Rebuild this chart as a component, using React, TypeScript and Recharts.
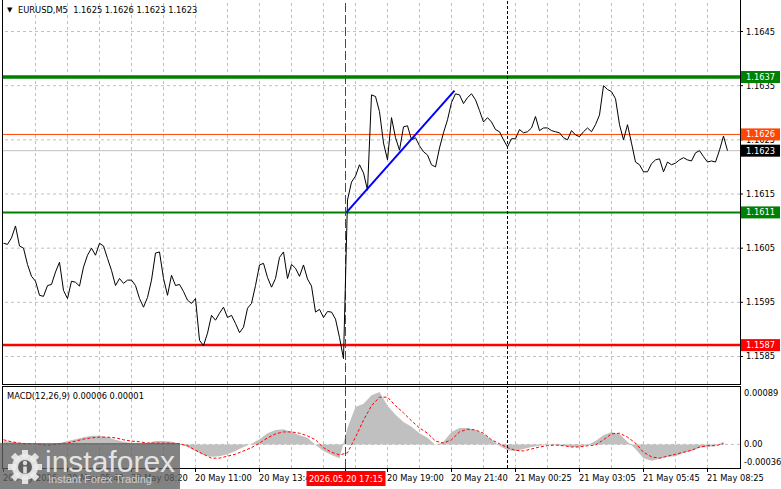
import { ComposedChart, Line, Area, XAxis, YAxis, ReferenceLine } from "recharts";

const FONT = "'DejaVu Sans', Verdana, sans-serif";
const FS = 8.3;

// EURUSD M5 close, one value every 2 bars (first bar 20 May 03:00)
const CLOSE = [
  1.16059, 1.16057, 1.16069, 1.16091, 1.16054, 1.16050, 1.16020, 1.15998, 1.15989, 1.15963,
  1.15961, 1.15981, 1.15983, 1.16006, 1.16024, 1.15972, 1.15957, 1.15989, 1.15987, 1.15980,
  1.16015, 1.16037, 1.16050, 1.16037, 1.16059, 1.16054, 1.16031, 1.16009, 1.15981, 1.15994,
  1.15985, 1.15991, 1.15991, 1.15981, 1.15957, 1.15941, 1.15959, 1.15991, 1.16041, 1.16043,
  1.15994, 1.15963, 1.16000, 1.15981, 1.15983, 1.15970, 1.15954, 1.15948, 1.15957, 1.15880,
  1.15870, 1.15893, 1.15926, 1.15917, 1.15930, 1.15941, 1.15922, 1.15926, 1.15911, 1.15894,
  1.15904, 1.15939, 1.15948, 1.15981, 1.16019, 1.16022, 1.15996, 1.15978, 1.15994, 1.16033,
  1.16043, 1.15994, 1.16020, 1.16013, 1.15998, 1.16019, 1.15993, 1.15980, 1.15932, 1.15937,
  1.15922, 1.15933, 1.15932, 1.15919, 1.15885, 1.15846, 1.16139, 1.16172, 1.16183, 1.16204,
  1.16189, 1.16157, 1.16333, 1.16330, 1.16302, 1.16244, 1.16213, 1.16291, 1.16254, 1.16231,
  1.16274, 1.16276, 1.16250, 1.16254, 1.16239, 1.16228, 1.16222, 1.16204, 1.16200, 1.16235,
  1.16263, 1.16287, 1.16319, 1.16335, 1.16333, 1.16317, 1.16328, 1.16335, 1.16324, 1.16304,
  1.16283, 1.16291, 1.16283, 1.16269, 1.16265, 1.16250, 1.16237, 1.16252, 1.16252, 1.16269,
  1.16263, 1.16265, 1.16272, 1.16293, 1.16267, 1.16272, 1.16272, 1.16267, 1.16265, 1.16263,
  1.16254, 1.16250, 1.16267, 1.16259, 1.16256, 1.16265, 1.16272, 1.16265, 1.16278, 1.16296,
  1.16350, 1.16343, 1.16339, 1.16326, 1.16278, 1.16250, 1.16278, 1.16244, 1.16209, 1.16204,
  1.16191, 1.16191, 1.16206, 1.16213, 1.16215, 1.16191, 1.16209, 1.16204, 1.16207, 1.16213,
  1.16217, 1.16213, 1.16211, 1.16226, 1.16230, 1.16219, 1.16209, 1.16211, 1.16209, 1.16231,
  1.16257, 1.16230,
];

// MACD(12,26,9), one value every 4 bars
const MACD_HIST = [
  0.00005, 0.00004, 0.00002, 0.00001, -0.00001, -0.00001, 0.00001, 0.00002, 0.00005, 0.00008,
  0.00011, 0.00013, 0.00013, 0.00011, 0.00007, 0.00004, 0.00002, 0.00001, 0.00002, 0.00005,
  0.00005, 0.00004, 0.00001, -0.00004, -0.00010, -0.00016, -0.00019, -0.00018, -0.00015, -0.00010,
  -0.00004, 0.00001, 0.00008, 0.00017, 0.00022, 0.00023, 0.00019, 0.00014, 0.00010, -0.00001,
  -0.00010, -0.00016, -0.00021, 0.00025, 0.00057, 0.00062, 0.00075, 0.00080, 0.00059, 0.00045,
  0.00034, 0.00027, 0.00017, 0.00010, -0.00001, 0.00004, 0.00019, 0.00025, 0.00025, 0.00022,
  0.00016, 0.00007, -0.00002, -0.00009, -0.00010, -0.00007, -0.00004, -0.00002, -0.00001, -0.00001,
  -0.00002, -0.00004, -0.00004, -0.00001, 0.00005, 0.00014, 0.00019, 0.00016, 0.00004, -0.00007,
  -0.00021, -0.00025, -0.00022, -0.00019, -0.00018, -0.00013, -0.00010, -0.00005, -0.00004, -0.00002,
  0.00004,
];
const MACD_SIGNAL = [
  0.00007, 0.00004, 0.00002, 0.00001, 0.00001, -0.00001, -0.00001, 0.00001, 0.00002, 0.00005,
  0.00008, 0.00010, 0.00011, 0.00011, 0.00010, 0.00007, 0.00005, 0.00004, 0.00002, 0.00002,
  0.00002, 0.00002, 0.00001, -0.00002, -0.00009, -0.00015, -0.00021, -0.00021, -0.00018, -0.00015,
  -0.00010, -0.00005, 0.00002, 0.00010, 0.00016, 0.00019, 0.00019, 0.00017, 0.00013, 0.00007,
  -0.00005, -0.00012, -0.00016, -0.00013, 0.00011, 0.00037, 0.00059, 0.00072, 0.00072, 0.00059,
  0.00048, 0.00036, 0.00025, 0.00017, 0.00005, 0.00002, 0.00007, 0.00019, 0.00023, 0.00022,
  0.00017, 0.00007, 0.00001, -0.00005, -0.00009, -0.00010, -0.00007, -0.00004, -0.00002, -0.00001,
  -0.00002, -0.00004, -0.00004, -0.00002, -0.00001, 0.00007, 0.00016, 0.00017, 0.00011, 0.00002,
  -0.00012, -0.00019, -0.00021, -0.00018, -0.00015, -0.00012, -0.00009, -0.00004, -0.00002, -0.00002,
  0.00001,
];

const HEADER_OHLC = ["1.1625", "1.1626", "1.1623", "1.1623"];
const MACD_VALUES = ["0.00006", "0.00001"];

const PRICE_GRID = [1.1645, 1.1635, 1.1625, 1.1615, 1.1605, 1.1595, 1.1585];
const LEVEL_PRICES = [1.16366, 1.1626, 1.1623, 1.16116, 1.15871];
const LEVEL_LABELS = ["1.1637", "1.1626", "1.1623", "1.1611", "1.1587"];

const MACD_TICKS = [0.00089, 0, -0.00036];
const MACD_TICK_LABELS = ["0.00089", "0.00", "-0.00036"];

const TIME_TICKS = [0, 32, 64, 96, 128, 192, 224, 256, 288, 320, 352];
const TIME_LABELS = [
  "20 May 2026", "20 May 05:40", "20 May 08:20", "20 May 11:00", "20 May 13:40",
  "20 May 19:00", "20 May 21:40", "21 May 00:25", "21 May 03:05", "21 May 05:45", "21 May 08:25",
];
const GRID_BARS = [16, 32, 48, 64, 80, 96, 112, 128, 144, 160, 176, 192, 208, 224, 240, 256, 272, 288, 304, 320, 336, 352];

const CURSOR_BAR = 171;
const CURSOR_LABEL = "2026.05.20 17:15";
const DAY_BAR = 252;
const TREND = [{ bar: 171.5, price: 1.16116 }, { bar: 225.5, price: 1.16341 }];

const LEVEL_STYLE = [
  { line: "#008000", width: 3.5, box: "#008000" },
  { line: "#FF4500", width: 1, box: "#FF4500" },
  { line: "#C0C0C0", width: 1, box: "#000000" },
  { line: "#008000", width: 2, box: "#008000" },
  { line: "#FF0000", width: 2.5, box: "#FF0000" },
];

const X_DOMAIN: [number, number] = [-0.75, 368.25];
const GRID = "#C0C0C0";

const priceData = CLOSE.map((price, i) => ({ bar: i * 2, price }));
const macdData = MACD_HIST.map((hist, i) => ({ bar: i * 4, hist, signal: MACD_SIGNAL[i] }));

function PriceTick(props: any) {
  const { x, y, payload } = props;
  const li = LEVEL_PRICES.indexOf(payload.value);
  if (li >= 0) {
    return (
      <g>
        <rect x={x - 5} y={y - 6} width={39} height={12} fill={LEVEL_STYLE[li].box} />
        <text x={x} y={y} dy={3} fontSize={FS} fontFamily={FONT} fill="#fff">{LEVEL_LABELS[li]}</text>
      </g>
    );
  }
  return (
    <text x={x} y={y} dy={3} fontSize={FS} fontFamily={FONT} fill="#000">
      {payload.value.toFixed(4)}
    </text>
  );
}

function MacdTick(props: any) {
  const { x, y, index } = props;
  const off = index === 0 ? 7 : index === MACD_TICKS.length - 1 ? -6 : 0;
  return (
    <text x={x} y={y + off} dy={3} fontSize={FS} fontFamily={FONT} fill="#000">
      {MACD_TICK_LABELS[index]}
    </text>
  );
}

function TimeTick(props: any) {
  const { x, y, payload } = props;
  if (payload.value === CURSOR_BAR) {
    return (
      <g>
        <rect x={x - 39} y={y - 3} width={79} height={15} fill="#FF0000" />
        <text x={x + 0.5} y={y + 8} textAnchor="middle" fontSize={FS} fontFamily={FONT} fill="#fff">{CURSOR_LABEL}</text>
      </g>
    );
  }
  const i = TIME_TICKS.indexOf(payload.value);
  return (
    <text x={x - 0.5} y={y} dy={7} fontSize={FS} fontFamily={FONT} fill="#000">{TIME_LABELS[i]}</text>
  );
}

function Gear() {
  const teeth = [0, 45, 90, 135, 180, 225, 270, 315];
  return (
    <svg width={40} height={46} style={{ position: "absolute", left: 5, top: 0 }}>
      <g fill="rgba(235,235,235,0.9)">
        {teeth.map((a) => (
          <rect key={a} x={17} y={7} width={6} height={8} transform={`rotate(${a} 20 24)`} />
        ))}
        <circle cx={20} cy={24} r={13} />
      </g>
      <circle cx={20} cy={24} r={7} fill="#5f5f5f" />
      <circle cx={20} cy={20} r={2.2} fill="rgba(235,235,235,0.9)" />
      <rect x={18.2} y={23.5} width={3.6} height={7} fill="rgba(235,235,235,0.9)" />
    </svg>
  );
}

export default function App() {
  return (
    <div style={{ position: "absolute", left: 0, top: 0, width: 781, height: 489, background: "#fff", overflow: "hidden" }}>
      <div style={{ position: "absolute", left: 0, top: 0 }}>
        <ComposedChart width={781} height={385} data={priceData} margin={{ top: 0, right: 0, bottom: 1, left: 2 }}>
          <XAxis dataKey="bar" type="number" domain={X_DOMAIN} allowDataOverflow hide />
          <YAxis
            orientation="right" width={41} type="number"
            domain={[1.157992, 1.165082]} allowDataOverflow
            ticks={[...PRICE_GRID, ...LEVEL_PRICES]} interval={0}
            tick={PriceTick} tickSize={3} tickMargin={3}
            axisLine={false} tickLine={{ stroke: "#000" }}
          />
          {PRICE_GRID.map((p) => (
            <ReferenceLine key={`h${p}`} y={p} stroke={GRID} strokeDasharray="3 3" />
          ))}
          {GRID_BARS.map((b) => (
            <ReferenceLine key={`v${b}`} x={b} stroke={GRID} strokeDasharray="3 3" />
          ))}
          {LEVEL_PRICES.map((p, i) => (
            <ReferenceLine key={`l${p}`} y={p} stroke={LEVEL_STYLE[i].line} strokeWidth={LEVEL_STYLE[i].width} />
          ))}
          <ReferenceLine x={CURSOR_BAR} stroke="#FF0000" strokeDasharray="9 3" />
          <ReferenceLine x={DAY_BAR} stroke="#000" strokeDasharray="3 2" />
          <Line dataKey="price" type="linear" stroke="#000" strokeWidth={1} dot={false} isAnimationActive={false} />
          <ReferenceLine
            segment={[{ x: TREND[0].bar, y: TREND[0].price }, { x: TREND[1].bar, y: TREND[1].price }]}
            stroke="#0000FF" strokeWidth={2}
          />
        </ComposedChart>
      </div>

      <div style={{ position: "absolute", left: 0, top: 386 }}>
        <ComposedChart width={781} height={103} data={macdData} margin={{ top: 0, right: 0, bottom: 0, left: 2 }}>
          <XAxis
            dataKey="bar" type="number" domain={X_DOMAIN} allowDataOverflow
            ticks={[...TIME_TICKS, CURSOR_BAR]} interval={0} height={21}
            tick={TimeTick} tickSize={4} tickMargin={2}
            axisLine={false} tickLine={{ stroke: "#000" }}
          />
          <YAxis
            orientation="right" width={41} type="number"
            domain={[-0.00036, 0.00089]} allowDataOverflow
            ticks={MACD_TICKS} interval={0}
            tick={MacdTick} tickSize={0} tickMargin={4}
            axisLine={false} tickLine={false}
          />
          {GRID_BARS.map((b) => (
            <ReferenceLine key={`mv${b}`} x={b} stroke={GRID} strokeDasharray="3 3" />
          ))}
          <ReferenceLine y={0} stroke={GRID} strokeDasharray="3 3" />
          <Area dataKey="hist" type="linear" fill="#C0C0C0" fillOpacity={1} stroke="none" baseValue={0} isAnimationActive={false} />
          <Line dataKey="signal" type="linear" stroke="#FF0000" strokeWidth={1} strokeDasharray="3 2" dot={false} isAnimationActive={false} />
          <ReferenceLine x={CURSOR_BAR} stroke="#FF0000" strokeDasharray="9 3" />
          <ReferenceLine x={DAY_BAR} stroke="#000" strokeDasharray="3 2" />
        </ComposedChart>
      </div>

      {/* panel frames */}
      <div style={{ position: "absolute", left: 2, top: -1, width: 739, height: 386, border: "1px solid #000", boxSizing: "border-box", pointerEvents: "none" }} />
      <div style={{ position: "absolute", left: 2, top: 386, width: 739, height: 83, border: "1px solid #000", boxSizing: "border-box", pointerEvents: "none" }} />

      <div style={{ position: "absolute", left: 7, top: 5, fontSize: 7, lineHeight: "10px", fontFamily: FONT, color: "#000" }}>▼</div>
      <div style={{ position: "absolute", left: 18, top: 5, fontSize: FS, lineHeight: "10px", fontFamily: FONT, color: "#000", whiteSpace: "pre" }}>
        {`EURUSD,M5  ${HEADER_OHLC.join(" ")}`}
      </div>
      <div style={{ position: "absolute", left: 7, top: 391, fontSize: FS, lineHeight: "10px", fontFamily: FONT, color: "#000", whiteSpace: "pre" }}>
        {`MACD(12,26,9) ${MACD_VALUES.join(" ")}`}
      </div>

      {/* watermark */}
      <div style={{ position: "absolute", left: 0, top: 443, width: 180, height: 46, background: "rgba(95,95,95,0.78)" }}>
        <Gear />
        <div style={{ position: "absolute", left: 45, top: 4, fontSize: 30, lineHeight: "30px", fontFamily: "'Liberation Sans', Arial, sans-serif", color: "rgba(238,238,238,0.92)" }}>
          instaforex
        </div>
        <div style={{ position: "absolute", left: 48, top: 31, fontSize: 11, lineHeight: "11px", fontFamily: "'Liberation Sans', Arial, sans-serif", color: "#cfcfcf" }}>
          Instant Forex Trading
        </div>
      </div>
    </div>
  );
}
